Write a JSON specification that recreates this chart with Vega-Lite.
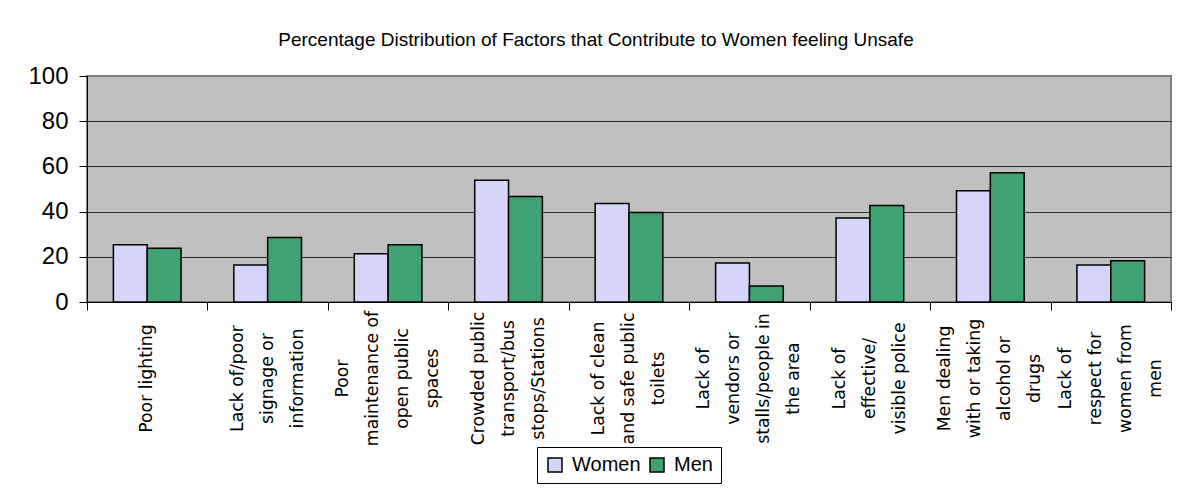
{
  "$schema": "https://vega.github.io/schema/vega-lite/v6.json",
  "autosize": {"type": "none"},
  "width": 1084,
  "height": 226,
  "padding": {"left": 87, "top": 76, "right": 17, "bottom": 191},
  "background": "white",
  "title": {
    "text": "Percentage Distribution of Factors that Contribute to Women feeling Unsafe",
    "font": "Liberation Sans",
    "fontSize": 19,
    "fontWeight": "normal",
    "color": "black",
    "anchor": "middle",
    "frame": "group",
    "dx": -33,
    "dy": 3,
    "baseline": "alphabetic",
    "offset": 2
  },
  "config": {
    "view": {"fill": "#C0C0C0", "stroke": "#808080", "strokeWidth": 2}
  },
  "data": {
    "values": [
      {"factor": "Poor lighting", "sex": "Women", "value": 25.3},
      {"factor": "Poor lighting", "sex": "Men", "value": 23.8},
      {"factor": "Lack of/poor signage or information", "sex": "Women", "value": 16.4},
      {"factor": "Lack of/poor signage or information", "sex": "Men", "value": 28.5},
      {"factor": "Poor maintenance of open public spaces", "sex": "Women", "value": 21.3},
      {"factor": "Poor maintenance of open public spaces", "sex": "Men", "value": 25.3},
      {"factor": "Crowded public transport/bus stops/Stations", "sex": "Women", "value": 53.9},
      {"factor": "Crowded public transport/bus stops/Stations", "sex": "Men", "value": 46.7},
      {"factor": "Lack of clean and safe public toilets", "sex": "Women", "value": 43.6},
      {"factor": "Lack of clean and safe public toilets", "sex": "Men", "value": 39.6},
      {"factor": "Lack of vendors or stalls/people in the area", "sex": "Women", "value": 17.3},
      {"factor": "Lack of vendors or stalls/people in the area", "sex": "Men", "value": 7.1},
      {"factor": "Lack of effective/ visible police", "sex": "Women", "value": 37.2},
      {"factor": "Lack of effective/ visible police", "sex": "Men", "value": 42.7},
      {"factor": "Men dealing with or taking alcohol or drugs", "sex": "Women", "value": 49.2},
      {"factor": "Men dealing with or taking alcohol or drugs", "sex": "Men", "value": 57.2},
      {"factor": "Lack of respect for women from men", "sex": "Women", "value": 16.4},
      {"factor": "Lack of respect for women from men", "sex": "Men", "value": 18.2}
    ]
  },
  "resolve": {"scale": {"x": "independent"}, "axis": {"x": "independent"}},
  "layer": [
    {
      "mark": {"type": "bar", "stroke": "black", "strokeWidth": 1.5},
      "encoding": {
        "x": {
          "field": "factor",
          "type": "nominal",
          "sort": null,
          "scale": {"paddingInner": 0, "paddingOuter": 0},
          "axis": {
            "title": null,
            "orient": "bottom",
            "ticks": false,
            "domainColor": "black",
            "domainWidth": 1,
            "labelAngle": -90,
            "labelAlign": "center",
            "labelBaseline": "middle",
            "labelPadding": 76,
            "labelOffset": {
              "condition": [
                {"test": "indexof(['Poor maintenance of open public spaces', 'Lack of vendors or stalls/people in the area', 'Men dealing with or taking alcohol or drugs', 'Lack of respect for women from men'], datum.value) >= 0", "value": -45},
                {"test": "datum.value != 'Poor lighting'", "value": -30}
              ],
              "value": 0
            },
            "labelFont": "DejaVu Sans",
            "labelFontSize": 17.3,
            "labelLineHeight": 30,
            "labelColor": "black",
            "labelLimit": 0,
            "labelOverlap": false,
            "labelExpr": "datum.label == 'Lack of/poor signage or information' ? ['Lack of/poor', 'signage or', 'information'] : datum.label == 'Poor maintenance of open public spaces' ? ['Poor', 'maintenance of', 'open public', 'spaces'] : datum.label == 'Crowded public transport/bus stops/Stations' ? ['Crowded public', 'transport/bus', 'stops/Stations'] : datum.label == 'Lack of clean and safe public toilets' ? ['Lack of clean', 'and safe public', 'toilets'] : datum.label == 'Lack of vendors or stalls/people in the area' ? ['Lack of', 'vendors or', 'stalls/people in', 'the area'] : datum.label == 'Lack of effective/ visible police' ? ['Lack of', 'effective/', 'visible police'] : datum.label == 'Men dealing with or taking alcohol or drugs' ? ['Men dealing', 'with or taking', 'alcohol or', 'drugs'] : datum.label == 'Lack of respect for women from men' ? ['Lack of', 'respect for', 'women from', 'men'] : datum.label"
          }
        },
        "xOffset": {
          "field": "sex",
          "type": "nominal",
          "sort": ["Women", "Men"],
          "scale": {"paddingInner": 0, "paddingOuter": 0.78}
        },
        "y": {
          "field": "value",
          "type": "quantitative",
          "scale": {"domain": [0, 100], "nice": false},
          "axis": {
            "title": null,
            "values": [0, 20, 40, 60, 80, 100],
            "tickSize": 8,
            "tickColor": "black",
            "domainColor": "black",
            "domainWidth": 1,
            "labelFont": "Liberation Sans",
            "labelFontSize": 24,
            "labelColor": "black",
            "labelPadding": 11,
            "grid": true,
            "gridColor": {"condition": {"test": "datum.value === 100", "value": "#808080"}, "value": "#2b2b2b"},
            "gridWidth": 1,
            "gridOpacity": 1
          }
        },
        "color": {
          "field": "sex",
          "type": "nominal",
          "sort": ["Women", "Men"],
          "scale": {"domain": ["Women", "Men"], "range": ["#D5D5FA", "#40A273"]},
          "legend": {
            "title": null,
            "orient": "none",
            "legendX": 450,
            "legendY": 371,
            "direction": "horizontal",
            "symbolType": "square",
            "symbolSize": 196,
            "symbolStrokeColor": "black",
            "symbolStrokeWidth": 1.5,
            "labelFont": "Liberation Sans",
            "labelFontSize": 20,
            "labelColor": "black",
            "labelOffset": 7,
            "columnPadding": 6,
            "padding": 8,
            "strokeColor": "black",
            "fillColor": "white"
          }
        }
      }
    },
    {
      "data": {"values": [{"boundary": 0}]},
      "mark": {"type": "rule", "opacity": 0},
      "encoding": {
        "x": {
          "field": "boundary",
          "type": "quantitative",
          "scale": {"domain": [0, 9], "nice": false, "zero": false},
          "axis": {
            "title": null,
            "orient": "bottom",
            "values": [0, 1, 2, 3, 4, 5, 6, 7, 8, 9],
            "labels": false,
            "domain": false,
            "grid": false,
            "ticks": true,
            "tickSize": 8,
            "tickColor": "black",
            "tickWidth": 1
          }
        }
      }
    }
  ]
}
